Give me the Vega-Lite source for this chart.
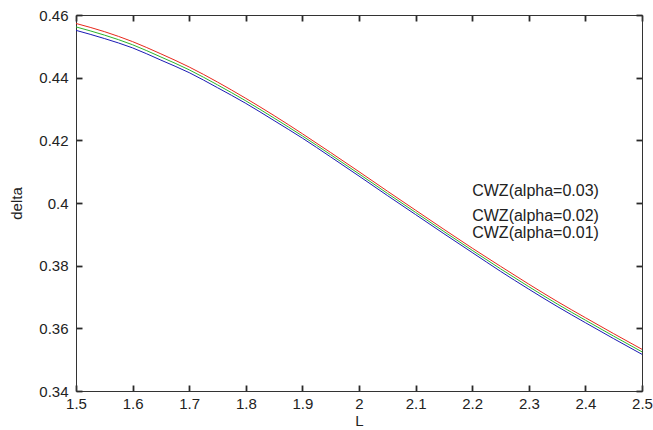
{
  "$schema": "https://vega.github.io/schema/vega-lite/v6.json",
  "autosize": {"type": "none"},
  "padding": {"left": 76, "top": 15, "right": 11, "bottom": 39},
  "width": 566,
  "height": 376,
  "background": "white",
  "config": {
    "view": {"stroke": null},
    "font": "Liberation Sans",
    "axis": {
      "grid": false,
      "domainColor": "#333333",
      "tickColor": "#2a2a2a",
      "labelColor": "#222222",
      "titleColor": "#222222",
      "labelFont": "Liberation Sans",
      "titleFont": "Liberation Sans",
      "labelFontSize": 15,
      "titleFontSize": 15,
      "titleFontWeight": "normal",
      "labelFlush": false,
      "labelOverlap": false
    }
  },
  "datasets": {
    "curves": [
      {"L": 1.5, "series": "alpha=0.03", "delta": 0.4573},
      {"L": 1.55, "series": "alpha=0.03", "delta": 0.4547},
      {"L": 1.6, "series": "alpha=0.03", "delta": 0.4515},
      {"L": 1.65, "series": "alpha=0.03", "delta": 0.4476},
      {"L": 1.7, "series": "alpha=0.03", "delta": 0.4434},
      {"L": 1.75, "series": "alpha=0.03", "delta": 0.4386},
      {"L": 1.8, "series": "alpha=0.03", "delta": 0.4334},
      {"L": 1.85, "series": "alpha=0.03", "delta": 0.4279},
      {"L": 1.9, "series": "alpha=0.03", "delta": 0.4221},
      {"L": 1.95, "series": "alpha=0.03", "delta": 0.4161},
      {"L": 2.0, "series": "alpha=0.03", "delta": 0.41},
      {"L": 2.05, "series": "alpha=0.03", "delta": 0.4038},
      {"L": 2.1, "series": "alpha=0.03", "delta": 0.3977},
      {"L": 2.15, "series": "alpha=0.03", "delta": 0.3916},
      {"L": 2.2, "series": "alpha=0.03", "delta": 0.3856},
      {"L": 2.25, "series": "alpha=0.03", "delta": 0.3798},
      {"L": 2.3, "series": "alpha=0.03", "delta": 0.3741},
      {"L": 2.35, "series": "alpha=0.03", "delta": 0.3686},
      {"L": 2.4, "series": "alpha=0.03", "delta": 0.3634},
      {"L": 2.45, "series": "alpha=0.03", "delta": 0.3583},
      {"L": 2.5, "series": "alpha=0.03", "delta": 0.3533},
      {"L": 1.5, "series": "alpha=0.02", "delta": 0.4562},
      {"L": 1.55, "series": "alpha=0.02", "delta": 0.4536},
      {"L": 1.6, "series": "alpha=0.02", "delta": 0.4505},
      {"L": 1.65, "series": "alpha=0.02", "delta": 0.4466},
      {"L": 1.7, "series": "alpha=0.02", "delta": 0.4425},
      {"L": 1.75, "series": "alpha=0.02", "delta": 0.4377},
      {"L": 1.8, "series": "alpha=0.02", "delta": 0.4326},
      {"L": 1.85, "series": "alpha=0.02", "delta": 0.4271},
      {"L": 1.9, "series": "alpha=0.02", "delta": 0.4214},
      {"L": 1.95, "series": "alpha=0.02", "delta": 0.4154},
      {"L": 2.0, "series": "alpha=0.02", "delta": 0.4093},
      {"L": 2.05, "series": "alpha=0.02", "delta": 0.4031},
      {"L": 2.1, "series": "alpha=0.02", "delta": 0.397},
      {"L": 2.15, "series": "alpha=0.02", "delta": 0.3909},
      {"L": 2.2, "series": "alpha=0.02", "delta": 0.3849},
      {"L": 2.25, "series": "alpha=0.02", "delta": 0.379},
      {"L": 2.3, "series": "alpha=0.02", "delta": 0.3733},
      {"L": 2.35, "series": "alpha=0.02", "delta": 0.3678},
      {"L": 2.4, "series": "alpha=0.02", "delta": 0.3626},
      {"L": 2.45, "series": "alpha=0.02", "delta": 0.3575},
      {"L": 2.5, "series": "alpha=0.02", "delta": 0.3525},
      {"L": 1.5, "series": "alpha=0.01", "delta": 0.4551},
      {"L": 1.55, "series": "alpha=0.01", "delta": 0.4525},
      {"L": 1.6, "series": "alpha=0.01", "delta": 0.4495},
      {"L": 1.65, "series": "alpha=0.01", "delta": 0.4456},
      {"L": 1.7, "series": "alpha=0.01", "delta": 0.4416},
      {"L": 1.75, "series": "alpha=0.01", "delta": 0.4368},
      {"L": 1.8, "series": "alpha=0.01", "delta": 0.4318},
      {"L": 1.85, "series": "alpha=0.01", "delta": 0.4263},
      {"L": 1.9, "series": "alpha=0.01", "delta": 0.4207},
      {"L": 1.95, "series": "alpha=0.01", "delta": 0.4147},
      {"L": 2.0, "series": "alpha=0.01", "delta": 0.4086},
      {"L": 2.05, "series": "alpha=0.01", "delta": 0.4024},
      {"L": 2.1, "series": "alpha=0.01", "delta": 0.3963},
      {"L": 2.15, "series": "alpha=0.01", "delta": 0.3902},
      {"L": 2.2, "series": "alpha=0.01", "delta": 0.3842},
      {"L": 2.25, "series": "alpha=0.01", "delta": 0.3782},
      {"L": 2.3, "series": "alpha=0.01", "delta": 0.3725},
      {"L": 2.35, "series": "alpha=0.01", "delta": 0.367},
      {"L": 2.4, "series": "alpha=0.01", "delta": 0.3618},
      {"L": 2.45, "series": "alpha=0.01", "delta": 0.3567},
      {"L": 2.5, "series": "alpha=0.01", "delta": 0.3517}
    ],
    "notes": [
      {"label": "CWZ(alpha=0.03)", "L": 2.2, "delta": 0.4038},
      {"label": "CWZ(alpha=0.02)", "L": 2.2, "delta": 0.3958},
      {"label": "CWZ(alpha=0.01)", "L": 2.2, "delta": 0.3904}
    ]
  },
  "layer": [
    {
      "data": {"name": "curves"},
      "mark": {"type": "line", "strokeWidth": 1, "interpolate": "monotone", "clip": true},
      "encoding": {
        "x": {
          "field": "L",
          "type": "quantitative",
          "scale": {"domain": [1.5, 2.5], "nice": false, "zero": false},
          "axis": {
            "orient": "bottom",
            "title": "L",
            "values": [1.5, 1.6, 1.7, 1.8, 1.9, 2.0, 2.1, 2.2, 2.3, 2.4, 2.5],
            "format": "~g",
            "tickSize": -6,
            "tickWidth": 1.8,
            "tickColor": "#2a2a2a",
            "labelPadding": 11,
            "titlePadding": 2
          }
        },
        "y": {
          "field": "delta",
          "type": "quantitative",
          "scale": {"domain": [0.34, 0.46], "nice": false, "zero": false},
          "axis": {
            "orient": "left",
            "title": "delta",
            "values": [0.34, 0.36, 0.38, 0.4, 0.42, 0.44, 0.46],
            "format": "~g",
            "tickSize": -6,
            "tickWidth": 1.8,
            "tickColor": "#2a2a2a",
            "labelPadding": 14,
            "titlePadding": 14
          }
        },
        "color": {
          "field": "series",
          "type": "nominal",
          "scale": {
            "domain": ["alpha=0.03", "alpha=0.02", "alpha=0.01"],
            "range": ["#e8281c", "#2cb42c", "#1a1ab4"]
          },
          "legend": null
        }
      }
    },
    {
      "data": {"name": "notes"},
      "mark": {"type": "text", "align": "left", "baseline": "middle", "font": "Liberation Sans", "fontSize": 16, "color": "#222222"},
      "encoding": {
        "x": {
          "field": "L",
          "type": "quantitative",
          "axis": {
            "orient": "top",
            "title": null,
            "labels": false,
            "values": [1.5, 1.6, 1.7, 1.8, 1.9, 2.0, 2.1, 2.2, 2.3, 2.4, 2.5],
            "tickSize": -6,
            "tickWidth": 1.8,
            "tickColor": "#2a2a2a"
          }
        },
        "y": {
          "field": "delta",
          "type": "quantitative",
          "axis": {
            "orient": "right",
            "title": null,
            "labels": false,
            "values": [0.34, 0.36, 0.38, 0.4, 0.42, 0.44, 0.46],
            "tickSize": -6,
            "tickWidth": 1.8,
            "tickColor": "#2a2a2a"
          }
        },
        "text": {"field": "label"}
      }
    }
  ],
  "resolve": {"axis": {"x": "independent", "y": "independent"}}
}
